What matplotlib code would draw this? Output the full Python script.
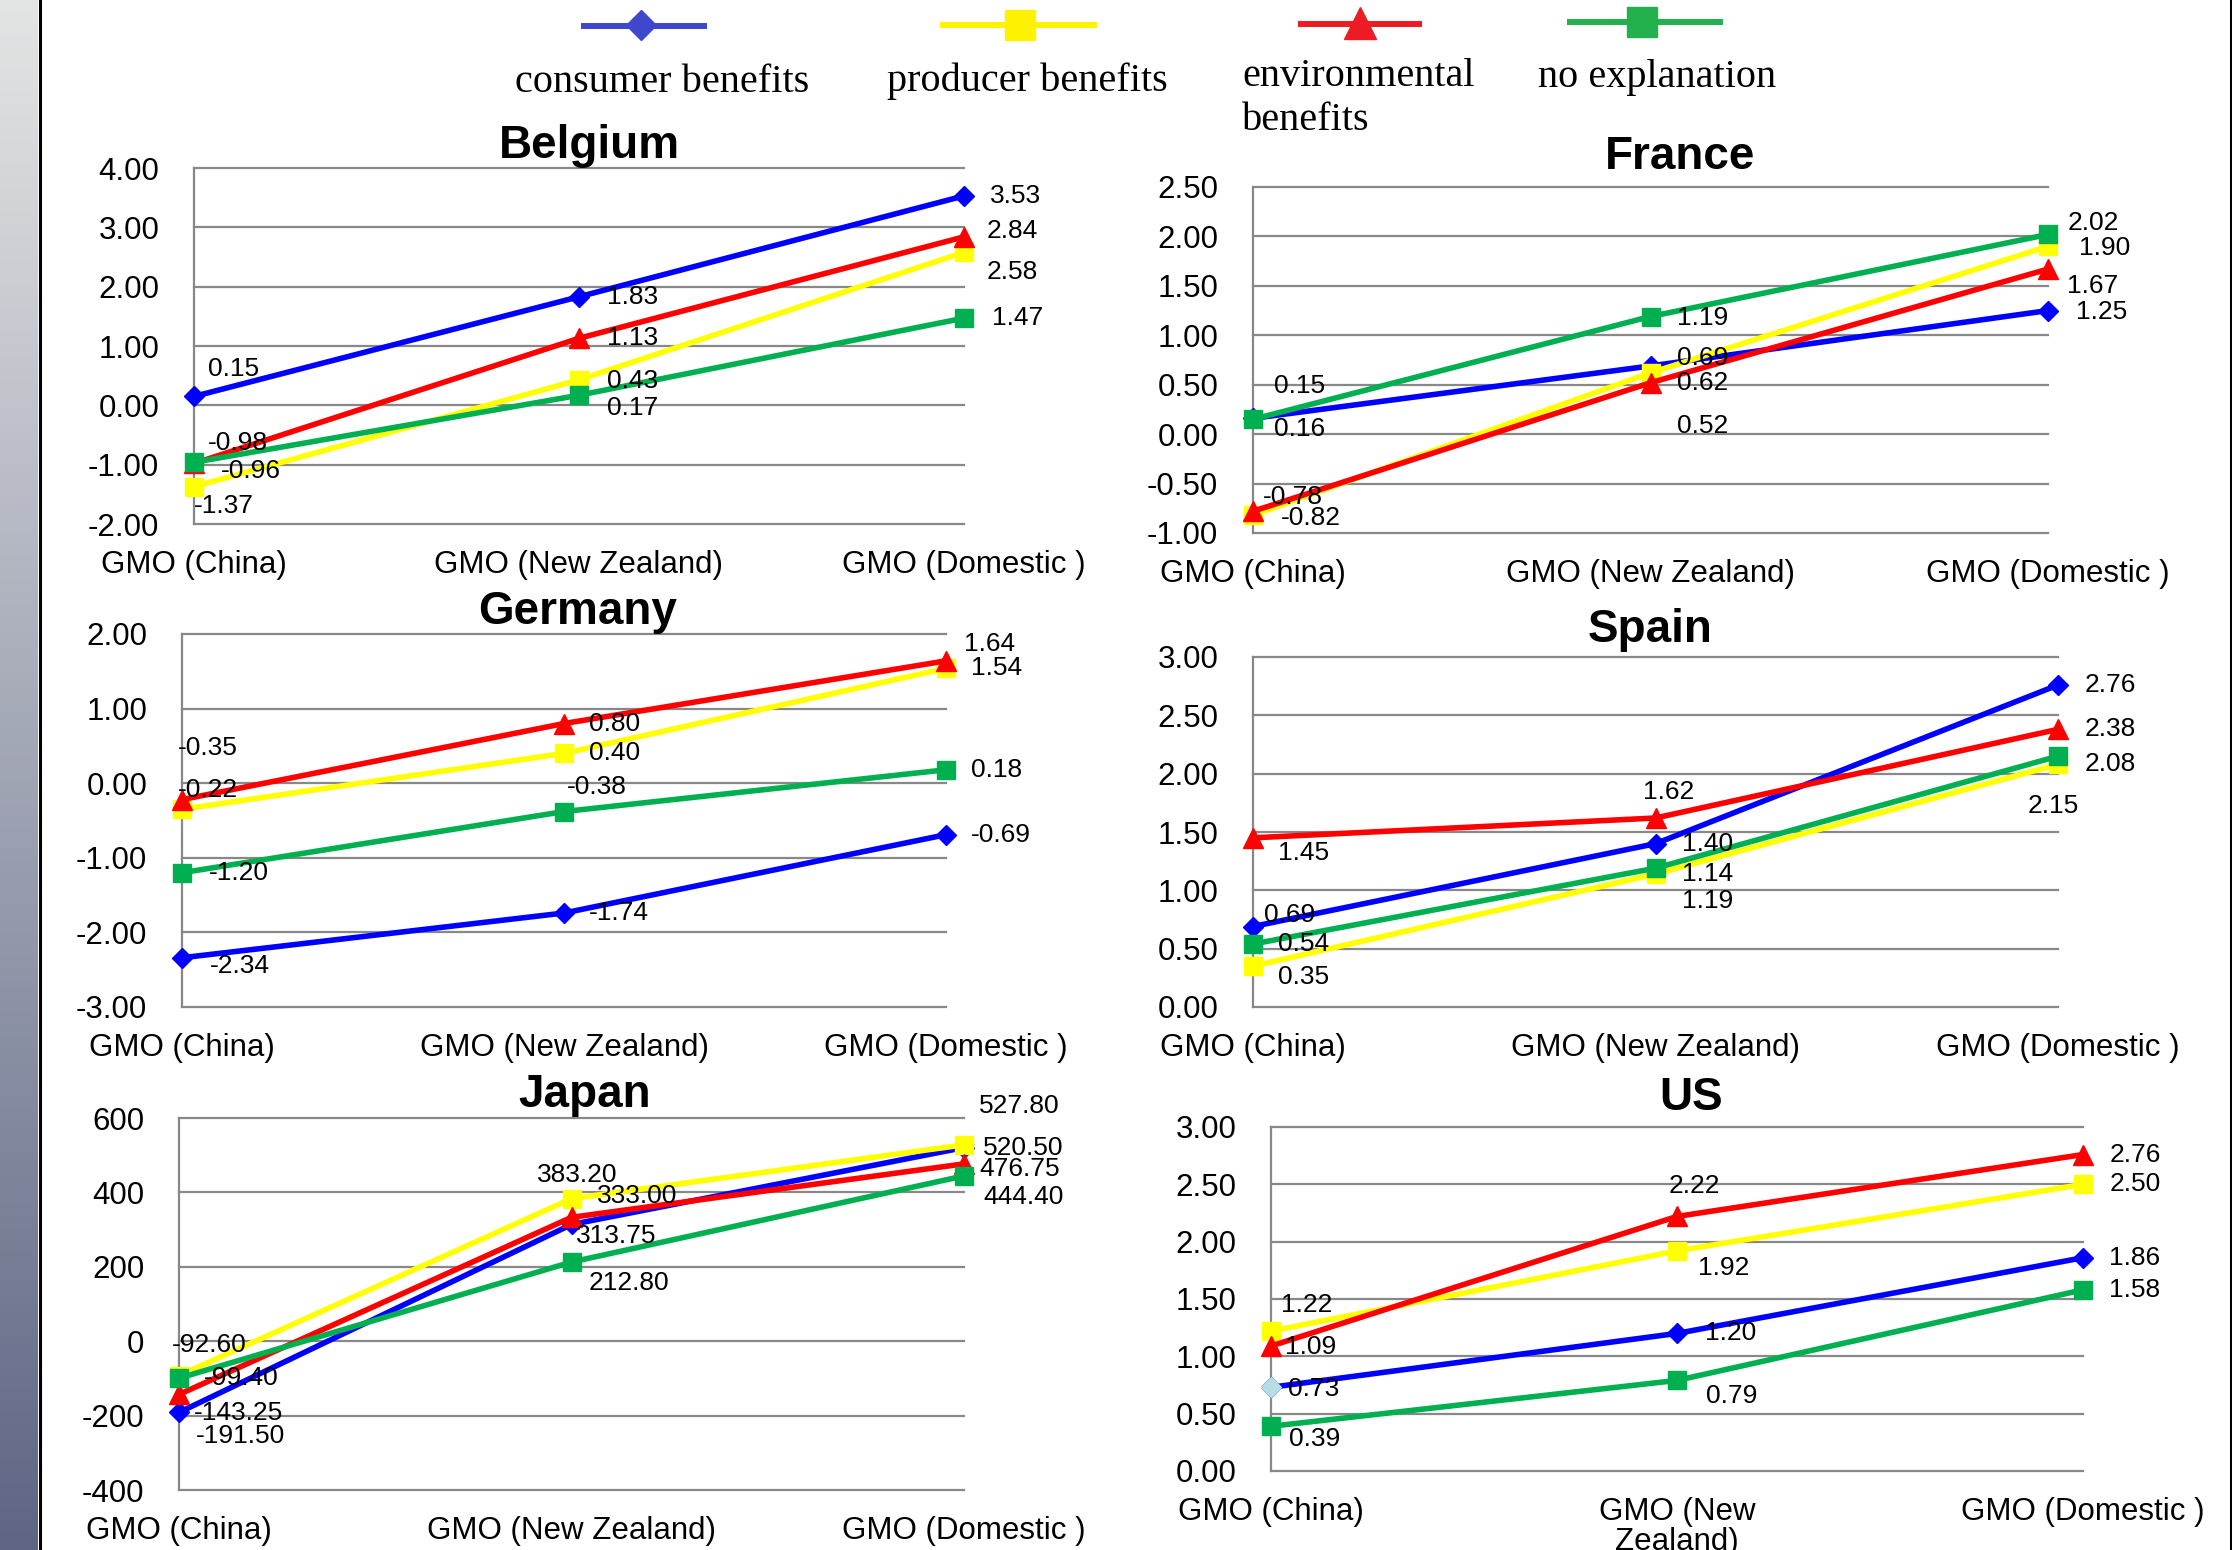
import numpy as np
import matplotlib.pyplot as plt

plt.rcParams['font.family'] = ['Liberation Sans', 'DejaVu Sans']

W, H = 2232, 1550

series = ['consumer benefits', 'producer benefits', 'environmental\nbenefits', 'no explanation']
origins = ['GMO (China)', 'GMO (New Zealand)', 'GMO (Domestic )']
us_origins = ['GMO (China)', 'GMO (New\nZealand)', 'GMO (Domestic )']

# rows: consumer, producer, environmental, no explanation
belgium = [[0.15, 1.83, 3.53], [-1.37, 0.43, 2.58], [-0.98, 1.13, 2.84], [-0.96, 0.17, 1.47]]
france = [[0.16, 0.69, 1.25], [-0.82, 0.62, 1.90], [-0.78, 0.52, 1.67], [0.15, 1.19, 2.02]]
germany = [[-2.34, -1.74, -0.69], [-0.35, 0.40, 1.54], [-0.22, 0.80, 1.64], [-1.20, -0.38, 0.18]]
spain = [[0.69, 1.40, 2.76], [0.35, 1.14, 2.08], [1.45, 1.62, 2.38], [0.54, 1.19, 2.15]]
japan = [[-191.50, 313.75, 520.50], [-92.60, 383.20, 527.80], [-143.25, 333.00, 476.75], [-99.40, 212.80, 444.40]]
us = [[0.73, 1.20, 1.86], [1.22, 1.92, 2.50], [1.09, 2.22, 2.76], [0.39, 0.79, 1.58]]

colors = ['#0000FF', '#FFFF00', '#FF0000', '#00B050']
markers = ['D', 's', '^', 's']
msizes = [10, 13, 14, 13]

# name, data, y ticks, tick format, panel box in pixels (x0, y0, x1, y1),
# title x (axes fraction), title pad (pt)
panels = [
    ('Belgium', belgium, np.arange(-2, 4.01, 1), '{:.2f}', (194, 168, 964, 524), 0.513, 5),
    ('France', france, np.arange(-1, 2.51, 0.5), '{:.2f}', (1253, 187, 2048, 533), 0.537, 13),
    ('Germany', germany, np.arange(-3, 2.01, 1), '{:.2f}', (182, 634, 946, 1007), 0.518, 6),
    ('Spain', spain, np.arange(0, 3.01, 0.5), '{:.2f}', (1253, 657, 2058, 1007), 0.494, 11),
    ('Japan', japan, np.arange(-400, 601, 200), '{:.0f}', (179, 1118, 964, 1490), 0.517, 8),
    ('US', us, np.arange(0, 3.01, 0.5), '{:.2f}', (1271, 1127, 2083, 1471), 0.517, 12),
]

# data label offsets in points, same row order as the values
label_offsets = {
    'Belgium': [[(10, 20), (20, 0), (19, 0)], [(0, -14), (20, -1), (16, -14)],
                [(10, 15), (20, 0), (16, 4)], [(19, -6), (20, -9), (20, 0)]],
    'France': [[(15, -8), (19, 6), (20, -1)], [(20, -2), (19, -7), (22, -1)],
               [(7, 10), (19, -31), (14, -12)], [(15, 24), (19, -1), (14, 8)]],
    'Germany': [[(20, -6), (18, 0), (18, 0)], [(-3, 44), (18, 0), (18, 0)],
                [(-3, 7), (18, 0), (13, 12)], [(19, 0), (2, 18), (18, 0)]],
    'Spain': [[(8, 8), (19, 0), (19, 0)], [(18, -8), (19, 0), (19, 0)],
              [(18, -11), (-9, 19), (19, 0)], [(18, 0), (19, -24), (-22, -36)]],
    'Japan': [[(12, -17), (3, -8), (14, 0)], [(-5, 22), (-25, 17), (11, 28)],
              [(11, -13), (18, 15), (11, -4)], [(18, 0), (12, -15), (14, -15)]],
    'US': [[(12, -1), (20, 0), (19, 0)], [(7, 19), (15, -12), (19, 0)],
           [(10, -1), (-6, 22), (19, 0)], [(13, -9), (21, -11), (19, 0)]],
}

fig = plt.figure(figsize=(W / 100, H / 100), dpi=100)

# page frame: shaded strip on the left, black borders, legend row
bg = fig.add_axes([0, 0, 1, 1])
top_c = np.array([0xE3, 0xE4, 0xE4]) / 255
bot_c = np.array([0x5E, 0x66, 0x84]) / 255
t = np.linspace(0, 1, 256)[:, None, None]
bg.imshow(top_c + (bot_c - top_c) * t, extent=[0, 38, H, 0], aspect='auto')
bg.set_xlim(0, W)
bg.set_ylim(H, 0)
bg.axis('off')
bg.plot([39.5, 39.5], [0, H], color='black', lw=2.2)
bg.plot([2230.5, 2230.5], [0, H], color='black', lw=2.2)

leg_colors = ['#3F48CC', '#FFF200', '#ED1C24', '#22B14C']
leg_lines = [(581, 707, 26), (940, 1097, 25), (1298, 1422, 24), (1567, 1723, 22)]
leg_marks = [(641, 25, 15), (1020, 25, 22), (1360, 23, 23), (1642, 22, 21.5)]
for c, m, (x0, x1, y), (mx, my, ms) in zip(leg_colors, markers, leg_lines, leg_marks):
    bg.plot([x0, x1], [y, y], color=c, lw=4.3, solid_capstyle='butt')
    bg.plot([mx], [my], marker=m, ms=ms, color=c, mec=c)

serif = ['Liberation Serif', 'DejaVu Serif']
bg.text(662, 82, series[0], ha='center', va='center', fontsize=29, family=serif)
bg.text(1027, 81, series[1], ha='center', va='center', fontsize=29, family=serif)
bg.text(1242, 99, series[2], ha='left', va='center', fontsize=29, family=serif, linespacing=1.25)
bg.text(1538, 78, series[3], ha='left', va='center', fontsize=29, family=serif)

for name, data, yticks, fmt, (x0, y0, x1, y1), tx, tpad in panels:
    ax = fig.add_axes([x0 / W, 1 - y1 / H, (x1 - x0) / W, (y1 - y0) / H])
    ax.patch.set_alpha(0)
    ax.set_xlim(0, 2)
    ax.set_ylim(yticks[0], yticks[-1])
    ax.set_yticks(yticks)
    ax.set_yticklabels([fmt.format(v) for v in yticks])
    ax.set_xticks([0, 1, 2])
    ax.set_xticklabels(us_origins if name == 'US' else origins)
    if name == 'US':
        for lab in ax.get_xticklabels():
            lab.set_linespacing(1.0)
    ax.tick_params(length=0, labelsize=22.5)
    ax.tick_params(axis='y', pad=25)
    ax.tick_params(axis='x', pad=19)
    ax.grid(axis='y', color='#888888', lw=1.6)
    for gl in ax.yaxis.get_gridlines():
        gl.set_clip_on(False)
    for side in ['top', 'right', 'bottom']:
        ax.spines[side].set_visible(False)
    ax.spines['left'].set_color('#888888')
    ax.spines['left'].set_linewidth(1.6)
    ax.set_axisbelow(True)
    ax.set_title(name, fontsize=33, fontweight='bold', x=tx, pad=tpad)

    xs = np.arange(3)
    for i, vals in enumerate(data):
        ax.plot(xs, vals, color=colors[i], lw=4, marker=markers[i], ms=msizes[i],
                mec=colors[i], clip_on=False, zorder=3 + i)
        if name == 'US' and i == 0:
            ax.plot(xs[0], vals[0], marker='D', ms=msizes[0], color='#B7DDE4',
                    mec='#B7DDE4', clip_on=False, zorder=3 + i)
        for xi, (v, (dx, dy)) in enumerate(zip(vals, label_offsets[name][i])):
            ax.annotate(f'{v:.2f}', (xi, v), xytext=(dx, dy), textcoords='offset points',
                        ha='left', va='center', fontsize=19, zorder=10,
                        annotation_clip=False)

fig.savefig('out.png', dpi=100)
